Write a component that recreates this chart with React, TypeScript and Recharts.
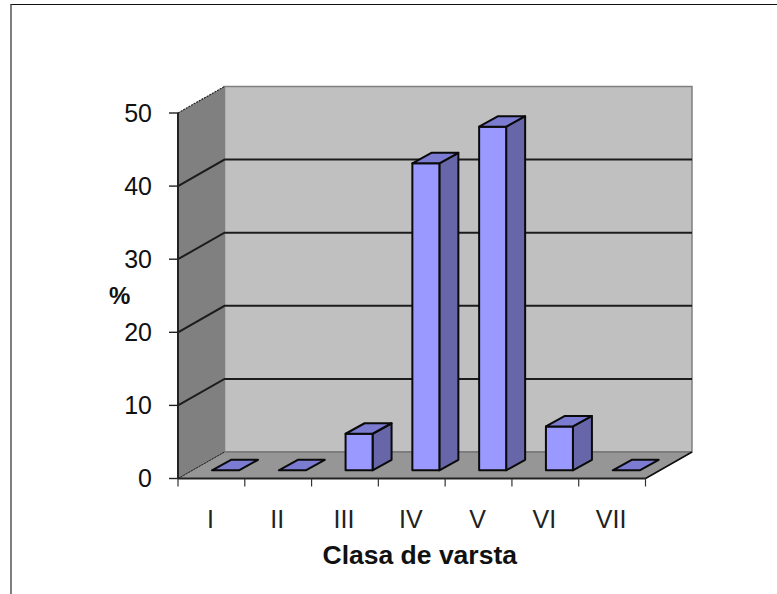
import React from "react";
import {
  BarChart,
  Bar,
  XAxis,
  YAxis,
  ReferenceArea,
  ReferenceLine,
} from "recharts";

const categories = ["I", "II", "III", "IV", "V", "VI", "VII"];
const percents = [0, 0, 5, 42, 47, 6, 0];
const yTicks = [0, 10, 20, 30, 40, 50];
const gridValues = [10, 20, 30, 40];

const data = categories.map((name, i) => ({ name, value: percents[i] }));

// 3d look: how far the back wall sits from the front plane
const WALL_DX = 46.5;
const WALL_DY = -26.5;
// bars stand in the middle of the floor
const BAR_DX = 19;
const BAR_DY = -10.5;
const BAR_SHIFT_X = 14;
const BAR_SHIFT_Y = -8.2;

const PLOT_LEFT = 178;
const PLOT_RIGHT = 645.5;
const BAND = (PLOT_RIGHT - PLOT_LEFT) / categories.length;

const pts = (list: number[][]) => list.map((p) => p.join(",")).join(" ");

const Walls = (props: any) => {
  const { x, y, width, height } = props;
  const r = x + width;
  const b = y + height;
  return (
    <g>
      <polygon
        points={pts([
          [x, y],
          [x + WALL_DX, y + WALL_DY],
          [x + WALL_DX, b + WALL_DY],
          [x, b],
        ])}
        fill="#808080"
      />
      <polygon
        points={pts([
          [x + WALL_DX, y + WALL_DY],
          [r + WALL_DX, y + WALL_DY],
          [r + WALL_DX, b + WALL_DY],
          [x + WALL_DX, b + WALL_DY],
        ])}
        fill="#C0C0C0"
        stroke="#808080"
        strokeWidth={1.5}
      />
      <polygon
        points={pts([
          [x, b],
          [x + WALL_DX, b + WALL_DY],
          [r + WALL_DX, b + WALL_DY],
          [r, b],
        ])}
        fill="#969696"
        stroke="#666"
        strokeWidth={1}
      />
      <line x1={x} y1={y} x2={x + WALL_DX} y2={y + WALL_DY} stroke="#222" strokeWidth={1.2} strokeDasharray="2 1" />
      <line x1={x} y1={b} x2={x + WALL_DX} y2={b + WALL_DY} stroke="#222" strokeWidth={1} strokeDasharray="2 1" />
      <line x1={r} y1={b} x2={r + WALL_DX} y2={b + WALL_DY} stroke="#111" strokeWidth={1.6} />
    </g>
  );
};

const GridLine = (props: any) => {
  const { x1, y1, x2 } = props;
  return (
    <polyline
      points={pts([
        [x1, y1],
        [x1 + WALL_DX, y1 + WALL_DY],
        [x2 + WALL_DX, y1 + WALL_DY],
      ])}
      fill="none"
      stroke="#1c1c1c"
      strokeWidth={2}
    />
  );
};

const Box3D = (props: any) => {
  const { x, y, width, height } = props;
  const l = x + BAR_SHIFT_X;
  const r = l + width;
  const t = y + BAR_SHIFT_Y;
  const b = t + height;
  const line = { stroke: "#0a0a0a", strokeWidth: 2, strokeLinejoin: "round" as const };
  return (
    <g>
      {height > 0 && (
        <>
          <polygon
            points={pts([
              [r, t],
              [r + BAR_DX, t + BAR_DY],
              [r + BAR_DX, b + BAR_DY],
              [r, b],
            ])}
            fill="#6666A8"
            {...line}
          />
          <rect x={l} y={t} width={width} height={height} fill="#9999FF" {...line} />
        </>
      )}
      <polygon
        points={pts([
          [l, t],
          [l + BAR_DX, t + BAR_DY],
          [r + BAR_DX, t + BAR_DY],
          [r, t],
        ])}
        fill="#7B7BD2"
        {...line}
      />
    </g>
  );
};

const CategoryTick = (props: any) => {
  const { x, y, payload, index } = props;
  const last = index === categories.length - 1;
  const top = y - 8;
  return (
    <g>
      <line x1={x - BAND / 2} y1={top} x2={x - BAND / 2} y2={top + 8} stroke="#333" strokeWidth={1.2} />
      {last && <line x1={x + BAND / 2} y1={top} x2={x + BAND / 2} y2={top + 8} stroke="#333" strokeWidth={1.2} />}
      <text x={x - 1} y={y + 41.5} textAnchor="middle" fontSize={25} fill="#222" fontFamily="Liberation Sans">
        {payload.value}
      </text>
    </g>
  );
};

export default function App() {
  return (
    <div style={{ position: "absolute", left: 0, top: 0, width: 777, height: 594, background: "#fff", overflow: "hidden" }}>
      <div
        style={{
          position: "absolute",
          left: 10,
          top: 4,
          width: 767,
          height: 590,
          boxSizing: "border-box",
          borderTop: "1.5px solid #111",
          borderLeft: "2px solid #7f7f7f",
        }}
      />
      <BarChart
        width={777}
        height={594}
        data={data}
        barSize={27}
        margin={{ top: 113, right: 131.5, bottom: 55.5, left: 118 }}
        style={{ fontFamily: "Liberation Sans" }}
      >
        <XAxis
          dataKey="name"
          height={60}
          tick={<CategoryTick />}
          tickLine={false}
          axisLine={{ stroke: "#222", strokeWidth: 2 }}
          interval={0}
          label={{
            value: "Clasa de varsta",
            position: "insideBottom",
            offset: 0,
            dx: 8,
            dy: 25,
            fontSize: 26.5,
            fontWeight: "bold",
            fill: "#111",
          }}
        />
        <YAxis
          width={60}
          domain={[0, 50]}
          ticks={yTicks}
          tickSize={9}
          tickMargin={17}
          tick={{ fontSize: 25, fill: "#111" }}
          tickLine={{ stroke: "#222", strokeWidth: 1.4 }}
          axisLine={{ stroke: "#222", strokeWidth: 2 }}
          label={{
            value: "%",
            position: "insideLeft",
            offset: -9,
            dy: 0,
            fontSize: 24,
            fontWeight: "bold",
            fill: "#111",
          }}
        />
        <ReferenceArea y1={0} y2={50} shape={<Walls />} fill="none" stroke="none" />
        {gridValues.map((v) => (
          <ReferenceLine key={v} y={v} shape={<GridLine />} zIndex={200} />
        ))}
        <Bar dataKey="value" shape={<Box3D />} isAnimationActive={false} />
      </BarChart>
    </div>
  );
}
